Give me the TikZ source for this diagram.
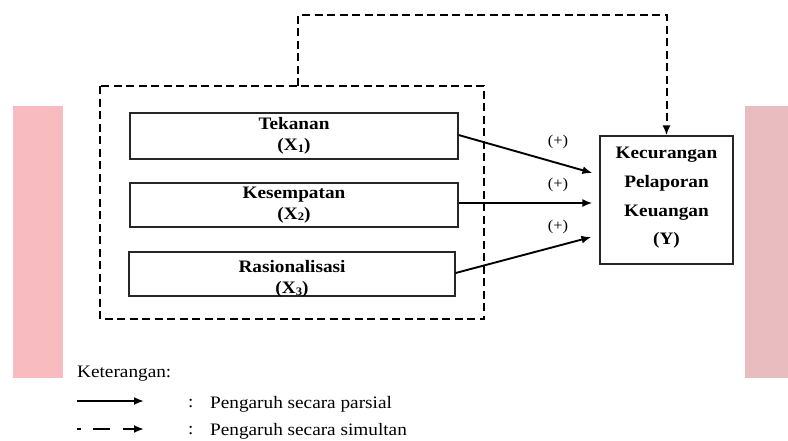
\documentclass[tikz,border=0pt]{standalone}
\usepackage{fontspec}
\setmainfont[FakeStretch=1.1]{Liberation Serif}
\usetikzlibrary{arrows.meta,calc}
\newcommand{\sbx}[1]{\raisebox{-1.5pt}{\fontsize{11.5}{11.5}\selectfont #1}}
\begin{document}
\begin{tikzpicture}[x=1pt,y=-1pt,
  varbox/.style={draw=black!85,line width=1.2pt,fill=white,align=center,inner sep=0pt,
    font=\fontsize{17.5}{21}\selectfont\bfseries},
  boxtext/.style={align=center,inner sep=0pt,font=\fontsize{17.5}{21}\selectfont\bfseries},
  solidarrow/.style={line width=1.9pt,-{Latex[length=10pt,width=8pt]}},
  dasharrow/.style={line width=2pt,dash pattern=on 8pt off 4.5pt,-{Latex[length=10pt,width=8pt]}},
  dashline/.style={line width=2pt,dash pattern=on 8pt off 4.5pt},
  plus/.style={font=\fontsize{15}{15}\selectfont},
  legtxt/.style={font=\fontsize{17.5}{17.5}\selectfont,anchor=west,inner sep=0pt}]
\useasboundingbox (0,0) rectangle (788,440);
% side bars
\fill[fill={rgb,255:red,248;green,188;blue,192}] (13,106) rectangle (63,378);
\fill[fill={rgb,255:red,233;green,189;blue,192}] (745,106) rectangle (788,378);
% big dashed box
\draw[dashline] (100,86) rectangle (484,319);
\coordinate (boxtop) at (298,86);
% variable boxes
\node[varbox,minimum width=328pt,minimum height=46pt] (t) at (294,136)
  {Tekanan\\(X\sbx{1})};
\node[varbox,minimum width=328pt,minimum height=44pt] (k) at (294,205)
  {Kesempatan\\(X\sbx{2})};
\node[varbox,minimum width=326pt,minimum height=44pt] (r) at (292,274) {};
\begin{scope}
  \clip (r.south west) rectangle (r.north east);
  \node[boxtext] (rt) at (292,279) {Rasionalisasi\\(X\sbx{3})};
\end{scope}
\node[varbox,minimum width=133pt,minimum height=128pt] (y) at (666.5,200) {};
\node[boxtext,font=\fontsize{17.5}{28.7}\selectfont\bfseries] (yt) at (666.5,198)
  {Kecurangan\\Pelaporan\\Keuangan\\(Y)};
% partial arrows
\draw[solidarrow] ([yshift=1pt]t.east) -- ([xshift=-7pt,yshift=27pt]y.west);
\draw[solidarrow] ([yshift=2pt]k.east) -- ([xshift=-7pt,yshift=-3pt]y.west);
\draw[solidarrow] ([yshift=1pt]r.east) -- ([xshift=-8pt,yshift=-37pt]y.west);
\node[plus] (p1) at (558,142) {(+)};
\node[plus] (p2) at (558,185) {(+)};
\node[plus] (p3) at (558,227) {(+)};
% simultaneous arrow
\draw[dasharrow] (boxtop) -- ++(0,-71) -| (y.north);
% legend
\node[legtxt] (ket) at (77,374) {Keterangan:};
\coordinate (l1a) at (77,401);
\coordinate (l1b) at (144,401);
\draw[solidarrow] (l1a) -- (l1b);
\node[legtxt] (c1) at (188,404) {:};
\node[legtxt] (t1) at (210,404) {Pengaruh secara parsial};
\coordinate (l2a) at (77,429);
\coordinate (l2b) at (81,429);
\coordinate (l2c) at (93,429);
\coordinate (l2d) at (110,429);
\coordinate (l2e) at (123,429);
\coordinate (l2f) at (144,429);
\draw[line width=2.2pt] (l2a) -- (l2b);
\draw[line width=2.2pt] (l2c) -- (l2d);
\draw[solidarrow] (l2e) -- (l2f);
\node[legtxt] (c2) at (188,431) {:};
\node[legtxt] (t2) at (210,431) {Pengaruh secara simultan};
\end{tikzpicture}
\end{document}
